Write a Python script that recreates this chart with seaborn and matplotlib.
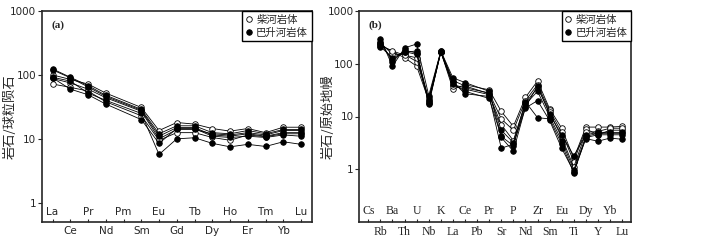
import numpy as np
import pandas as pd
import matplotlib
matplotlib.use('Agg')
import matplotlib.pyplot as plt
import matplotlib.transforms as mtransforms
from matplotlib.lines import Line2D
import seaborn as sns

sns.set_style('ticks')
plt.rcParams['font.family'] = ['DejaVu Sans', 'Noto Sans CJK SC']

# REE elements (chondrite normalised), Pm has no data
ree_axis = ['La', 'Ce', 'Pr', 'Nd', 'Pm', 'Sm', 'Eu', 'Gd', 'Tb', 'Dy', 'Ho', 'Er', 'Tm', 'Yb', 'Lu']
ree_elem = ['La', 'Ce', 'Pr', 'Nd', 'Sm', 'Eu', 'Gd', 'Tb', 'Dy', 'Ho', 'Er', 'Tm', 'Yb', 'Lu']

ree_chaihe = [
    [100, 85, 72, 52, 31, 13.5, 18, 17, 14.5, 13.2, 14.5, 12.5, 15.2, 15.2],
    [88, 75, 60, 44, 27, 10, 14, 14, 12, 11.5, 12.5, 11.5, 13.5, 13.5],
    [72, 64, 56, 38, 23, 9.5, 12.5, 12.5, 10.5, 9.5, 11.5, 10.8, 12, 12],
]
ree_bashenghe = [
    [124, 92, 68, 48, 29, 12, 16, 16, 12.5, 12, 13.5, 12, 14, 14],
    [120, 90, 65, 46, 28, 11, 15, 15, 11.5, 11, 12, 11, 12.5, 12.5],
    [90, 60, 49, 35, 20, 8.5, 14.5, 14.5, 11, 10.5, 11, 10.5, 11.5, 11],
    [92, 80, 52, 40, 25, 5.7, 10, 10.4, 8.5, 7.5, 8.2, 7.6, 9, 8.2],
]

# trace elements (primitive mantle normalised), Cs has no data
te_axis = ['Cs', 'Rb', 'Ba', 'Th', 'U', 'Nb', 'K', 'La', 'Ce', 'Pb', 'Pr', 'Sr', 'P',
           'Nd', 'Zr', 'Sm', 'Eu', 'Ti', 'Dy', 'Y', 'Yb', 'Lu']
te_elem = ['Rb', 'Ba', 'Th', 'U', 'Nb', 'K', 'La', 'Ce', 'Pr', 'Sr', 'P',
           'Nd', 'Zr', 'Sm', 'Eu', 'Ti', 'Dy', 'Y', 'Yb', 'Lu']

te_chaihe = [
    [230, 170, 130, 90, 20, 170, 33, 40, 32, 12.5, 6.5, 23, 47, 14, 6, 1.6, 6.3, 6.3, 6.3, 6.5],
    [250, 150, 150, 110, 22, 170, 40, 35, 28, 9, 5.5, 20, 40, 13, 5, 1.4, 5.8, 4.5, 5.5, 5.5],
    [220, 175, 145, 130, 19, 165, 38, 33, 26, 7, 3.5, 18, 35, 12, 4, 1.1, 5, 5.2, 6, 6],
]
te_bashenghe = [
    [300, 90, 200, 237, 25, 175, 54, 44, 30, 4, 2.2, 15, 38, 11, 4.5, 1.8, 4.5, 5, 5, 5],
    [260, 110, 180, 160, 17, 170, 45, 27, 24, 2.5, 3, 14.5, 20, 8.4, 2.5, 0.9, 3.8, 3.4, 3.9, 3.7],
    [210, 130, 165, 175, 18, 168, 42, 30, 22, 4.2, 2.8, 17, 30, 10, 3.5, 0.97, 4.2, 4.8, 4.8, 4.8],
    [240, 120, 170, 150, 21, 172, 48, 38, 27, 5.5, 3.2, 19, 9.5, 9, 3, 0.86, 4, 4.5, 4.5, 4.5],
]

ytick_vals = [1, 10, 100, 1000]
label_chaihe = '柴河岩体'
label_bashenghe = '巴升河岩体'

fig = plt.figure(figsize=(7.1, 2.5), dpi=100)
ax_a = fig.add_axes([0.059, 0.112, 0.380, 0.844])
ax_b = fig.add_axes([0.506, 0.112, 0.383, 0.844])


def draw_panel(ax, axis_elems, elems, open_rows, filled_rows):
    xpos = [axis_elems.index(e) for e in elems]
    for rows, face in [(open_rows, 'white'), (filled_rows, 'black')]:
        for r in rows:
            df = pd.DataFrame({'x': xpos, 'y': r})
            sns.lineplot(data=df, x='x', y='y', ax=ax, color='black', lw=0.6,
                         marker='o', markersize=4, markerfacecolor=face,
                         markeredgecolor='black', markeredgewidth=0.6)


def style_panel(ax, axis_elems, ylim, ylabel, tag, serif, label_x):
    n = len(axis_elems)
    ax.set_yscale('log')
    ax.set_ylim(*ylim)
    ax.set_xlim(-0.6 if not serif else -0.75, n - 1 + (0.6 if not serif else 0.75))
    ax.set_xlabel('')
    ax.set_ylabel(ylabel, fontsize=9.5, family=['Noto Sans CJK SC'])
    ax.yaxis.set_label_coords(label_x, 0.5)
    ax.set_yticks(ytick_vals)
    ax.yaxis.set_minor_locator(matplotlib.ticker.NullLocator())
    ax.yaxis.set_major_formatter(matplotlib.ticker.FuncFormatter(lambda v, p: f'{v:g}'))
    ax.tick_params(axis='y', labelsize=7.5, length=3, width=0.8, pad=1)
    for s in ax.spines.values():
        s.set_linewidth(1.2)
    fam = 'Liberation Serif' if serif else 'DejaVu Sans'
    ax.set_xticks(range(n))
    ax.set_xticklabels([e if i % 2 == 1 else '' for i, e in enumerate(axis_elems)],
                       fontsize=7.5 if not serif else 8.5, family=fam)
    ax.tick_params(axis='x', direction='in', length=2.5, width=0.8, pad=3)
    trans = mtransforms.blended_transform_factory(ax.transData, ax.transAxes)
    for i, e in enumerate(axis_elems):
        if i % 2 == 0:
            ax.text(i, 0.025, e, transform=trans, ha='center', va='bottom',
                    fontsize=7.5 if not serif else 8.5, family=fam)
    ax.text(0.035, 0.934, tag, transform=ax.transAxes, ha='left', va='center',
            fontsize=8, family='Liberation Serif', fontweight='bold')
    handles = [
        Line2D([], [], ls='none', marker='o', ms=4, mfc='white', mec='black', mew=0.6),
        Line2D([], [], ls='none', marker='o', ms=4, mfc='black', mec='black', mew=0.6),
    ]
    leg = ax.legend(handles, [label_chaihe, label_bashenghe], loc='upper right',
                    borderaxespad=0, fancybox=False, edgecolor='black',
                    prop={'family': ['Noto Sans CJK SC'], 'size': 7.5},
                    handlelength=0.6, handletextpad=0.4, borderpad=0.35,
                    labelspacing=0.3, framealpha=1)
    leg.get_frame().set_linewidth(1.0)


draw_panel(ax_a, ree_axis, ree_elem, ree_chaihe, ree_bashenghe)
style_panel(ax_a, ree_axis, (0.5, 1000), '岩石/球粒陨石', '(a)', False, -0.095)

draw_panel(ax_b, te_axis, te_elem, te_chaihe, te_bashenghe)
style_panel(ax_b, te_axis, (0.1, 1000), '岩石/原始地幔', '(b)', True, -0.092)

fig.savefig('out.png', dpi=100)
